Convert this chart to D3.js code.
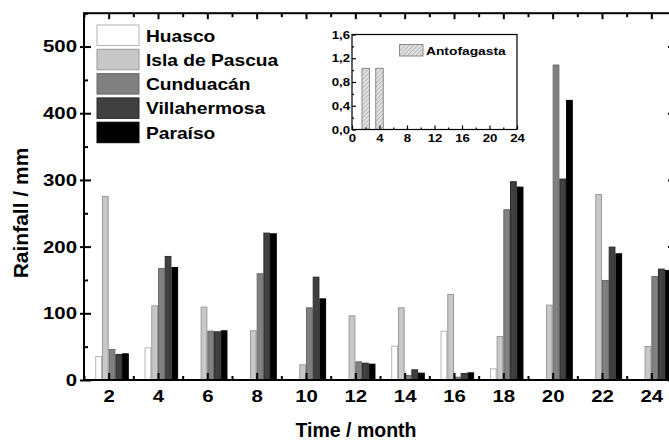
<!DOCTYPE html>
<html><head><meta charset="utf-8">
<script src="https://cdn.jsdelivr.net/npm/d3@7"></script>
<style>
body{margin:0;background:#fff}
text{font-family:"Liberation Sans",Arial,sans-serif;font-weight:bold;fill:#000}
</style>
</head><body>
<svg id="c" width="669" height="443"></svg>
<script>
// ---- data ----
const months = [2,4,6,8,10,12,14,16,18,20,22,24];
const seriesNames = ["Huasco","Isla de Pascua","Cunduacán","Villahermosa","Paraíso"];
const huasco       = [36, 49, 0, 0, 0, 0, 51.5, 74, 17.5, 0, 0, 0];
const islaDePascua = [276, 112, 110, 74.5, 23.5, 97, 109, 129, 66, 113, 279, 51];
const cunduacan    = [46.5, 168, 74, 160, 109, 28, 7.5, 5, 256, 473, 150, 156];
const villahermosa = [39, 186, 73, 221, 155, 26, 16, 10.5, 298, 302, 200, 167];
const paraiso      = [40, 169.5, 74.5, 220, 122.4, 24.5, 11, 11.5, 290, 420, 190, 165];
const yTicks = [0,100,200,300,400,500];
const yMinor = [50,150,250,350,450,550];
const xTicks = [2,4,6,8,10,12,14,16,18,20,22,24];
const xMinor = [1,3,5,7,9,11,13,15,17,19,21,23,25];

const antofagastaName = "Antofagasta";
const antofagasta = [1.03, 1.03, 0, 0, 0, 0, 0, 0, 0, 0, 0, 0];
const insetYTicks = [0,0.4,0.8,1.2,1.6];
const insetYMinor = [0.2,0.6,1.0,1.4];
const insetXTicks = [0,4,8,12,16,20,24];
const insetXMinor = [2,6,10,14,18,22];

const allSeries = [huasco, islaDePascua, cunduacan, villahermosa, paraiso];
const fills   = ["#ffffff","#c8c8c8","#808080","#404040","#000000"];
const strokes = ["#b4b4b4","#9a9a9a","#6a6a6a","#2a2a2a","#000000"];

const svg = d3.select("#c");
const x = d3.scaleLinear().domain([1,25]).range([84,676]);
const y = d3.scaleLinear().domain([0,550]).range([380,13.2]);
const bw = 0.272; // bar width in months

// bars
allSeries.forEach((vals,i)=>{
  const data = months.map((m,j)=>({m, v: vals[j]})).filter(d=>d.v>0);
  svg.append("g").selectAll("rect").data(data).join("rect")
    .attr("x", d=>x(d.m+(i-2)*bw)+0.5)
    .attr("width", d=>x(d.m+(i-1)*bw)-x(d.m+(i-2)*bw)-1)
    .attr("y", d=>y(d.v)+0.5)
    .attr("height", d=>y(0)-y(d.v)-0.5)
    .attr("fill", fills[i]).attr("stroke", strokes[i]).attr("stroke-width",1);
});

const sx = 1.2;
function styleAxis(g){
  g.select(".domain").remove();
  g.selectAll("line").attr("stroke","#000").attr("stroke-width",2);
}
// left axis
const gl = svg.append("g").attr("transform","translate(84,0)")
  .call(d3.axisLeft(y).tickValues(yTicks).tickSize(4).tickPadding(3).tickFormat(d3.format("d")));
styleAxis(gl);
gl.selectAll("text").attr("font-size",17).attr("x",-7/sx).attr("transform",`scale(${sx},1)`);
svg.append("g").attr("transform","translate(84,0)")
  .call(d3.axisRight(y).tickValues(yTicks).tickSize(7).tickFormat("")).call(styleAxis);
svg.append("g").attr("transform","translate(84,0)")
  .call(d3.axisRight(y).tickValues(yMinor).tickSize(4).tickFormat("")).call(styleAxis);
// right axis
svg.append("g").attr("transform","translate(676,0)")
  .call(d3.axisLeft(y).tickValues(yTicks).tickSize(8).tickFormat("")).call(styleAxis);
svg.append("g").attr("transform","translate(676,0)")
  .call(d3.axisLeft(y).tickValues(yMinor).tickSize(4).tickFormat("")).call(styleAxis);
// bottom axis
const gb = svg.append("g").attr("transform","translate(0,380)")
  .call(d3.axisBottom(x).tickValues(xTicks).tickSize(0).tickPadding(10));
styleAxis(gb);
gb.selectAll("text").attr("font-size",17).attr("transform",`scale(${sx},1)`);
svg.append("g").attr("transform","translate(0,380)")
  .call(d3.axisTop(x).tickValues(xTicks).tickSize(7).tickFormat("")).call(styleAxis);
svg.append("g").attr("transform","translate(0,380)")
  .call(d3.axisTop(x).tickValues(xMinor).tickSize(4).tickFormat("")).call(styleAxis);
// top axis
svg.append("g").attr("transform",`translate(0,${y(550)})`)
  .call(d3.axisBottom(x).tickValues(xTicks).tickSize(6).tickFormat("")).call(styleAxis);
svg.append("g").attr("transform",`translate(0,${y(550)})`)
  .call(d3.axisBottom(x).tickValues(xMinor).tickSize(4).tickFormat("")).call(styleAxis);
// frame
svg.append("rect").attr("x",84).attr("y",y(550)).attr("width",676-84).attr("height",380-y(550))
  .attr("fill","none").attr("stroke","#000").attr("stroke-width",2);

// axis titles
svg.append("text").attr("transform","translate(28,213) rotate(-90)")
  .attr("text-anchor","middle").attr("font-size",21).text("Rainfall / mm");
svg.append("text").attr("x",356).attr("y",437)
  .attr("text-anchor","middle").attr("font-size",19.5).text("Time / month");

// legend
const lg = svg.append("g");
seriesNames.forEach((n,i)=>{
  const ty = 25 + i*24.3;
  lg.append("rect").attr("x",97).attr("y",ty).attr("width",42).attr("height",20.5)
    .attr("fill",fills[i]).attr("stroke",strokes[i]).attr("stroke-width",1);
  lg.append("text").attr("transform",`translate(146,${ty+16.5}) scale(${sx},1)`)
    .attr("font-size",16).text(n);
});

// inset
const defs = svg.append("defs");
const pat = defs.append("pattern").attr("id","hatch").attr("patternUnits","userSpaceOnUse")
  .attr("width",3).attr("height",3).attr("patternTransform","rotate(45)");
pat.append("rect").attr("width",3).attr("height",3).attr("fill","#e4e4e4");
pat.append("line").attr("x1",0).attr("y1",0).attr("x2",0).attr("y2",3)
  .attr("stroke","#7a7a7a").attr("stroke-width",0.9);

const xi = d3.scaleLinear().domain([0,24]).range([352,517]);
const yi = d3.scaleLinear().domain([0,1.6]).range([129.5,34.5]);
const ib = 1.1;
svg.append("g").selectAll("rect")
  .data(months.map((m,j)=>({m, v: antofagasta[j]})).filter(d=>d.v>0))
  .join("rect")
  .attr("x", d=>xi(d.m-ib/2)).attr("width", d=>xi(ib)-xi(0))
  .attr("y", d=>yi(d.v)).attr("height", d=>yi(0)-yi(d.v))
  .attr("fill","url(#hatch)").attr("stroke","#8a8a8a").attr("stroke-width",1);

function styleInset(g){
  g.select(".domain").remove();
  g.selectAll("line").attr("stroke","#000").attr("stroke-width",1.2);
}
const fmtC = d=>d3.format(".1f")(d).replace(".",",");
const gil = svg.append("g").attr("transform","translate(352,0)")
  .call(d3.axisRight(yi).tickValues(insetYTicks).tickSize(4).tickFormat(fmtC));
styleInset(gil);
gil.selectAll("text").attr("font-size",11).attr("text-anchor","end").attr("x",-2/sx)
  .attr("transform",`scale(${sx},1)`);
svg.append("g").attr("transform","translate(352,0)")
  .call(d3.axisRight(yi).tickValues(insetYMinor).tickSize(2).tickFormat("")).call(styleInset);
const gib = svg.append("g").attr("transform","translate(0,129.5)")
  .call(d3.axisTop(xi).tickValues(insetXTicks).tickSize(4).tickFormat(d3.format("d")));
styleInset(gib);
gib.selectAll("text").attr("font-size",11).attr("y",12.5).attr("dy",0)
  .attr("transform",`scale(${sx},1)`).attr("x",0);
svg.append("g").attr("transform","translate(0,129.5)")
  .call(d3.axisTop(xi).tickValues(insetXMinor).tickSize(2).tickFormat("")).call(styleInset);
svg.append("rect").attr("x",352).attr("y",34.5).attr("width",517-352).attr("height",129.5-34.5)
  .attr("fill","none").attr("stroke","#000").attr("stroke-width",1.2);
// inset legend
svg.append("rect").attr("x",399.5).attr("y",44.5).attr("width",23.5).attr("height",11.5)
  .attr("fill","url(#hatch)").attr("stroke","#8a8a8a").attr("stroke-width",1);
svg.append("text").attr("transform",`translate(426,55) scale(${sx},1)`)
  .attr("font-size",11.5).text(antofagastaName);
</script>
</body></html>
